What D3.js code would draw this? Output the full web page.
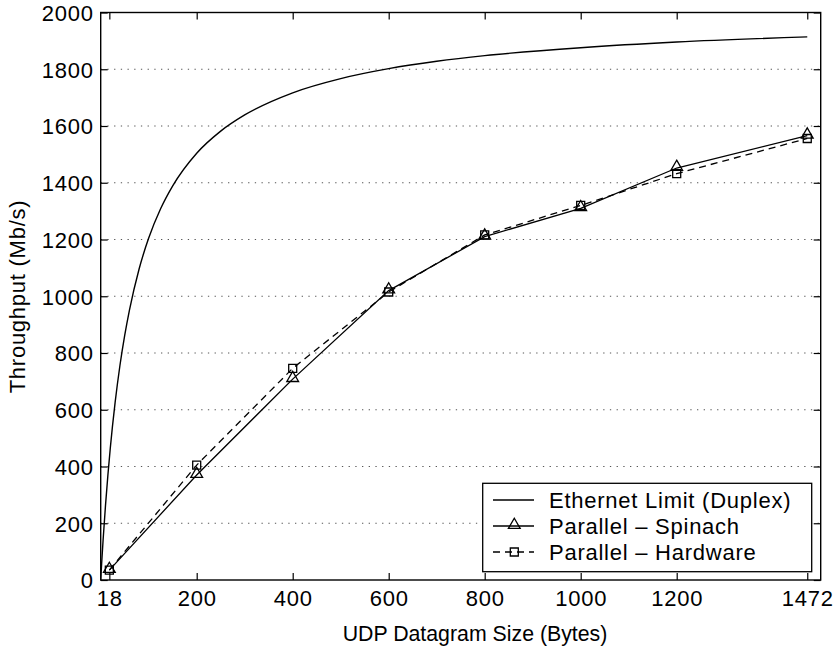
<!DOCTYPE html>
<html>
<head>
<meta charset="utf-8">
<script src="https://cdn.jsdelivr.net/npm/d3@7"></script>
<style>
  body { margin: 0; background: #fff; }
  svg { display: block; }
  text { font-family: "Liberation Sans", Arial, Helvetica, sans-serif; fill: #000; }
</style>
</head>
<body>
<svg id="chart" width="839" height="650"></svg>
<script>
// ---- data ----
const xTicks = [18, 200, 400, 600, 800, 1000, 1200, 1472];
const yTicks = [0, 200, 400, 600, 800, 1000, 1200, 1400, 1600, 1800, 2000];

const sizes = [18, 200, 400, 600, 800, 1000, 1200, 1472];
const spinach = [35, 370, 708, 1020, 1210, 1310, 1452, 1566];
const hardware = [35, 405, 746, 1015, 1216, 1320, 1432, 1556];

// Ethernet limit curve
const limitSizes = [0, 1, 2, 5, 10, 15, 20, 30, 40, 50, 60, 80, 100, 125, 150, 200, 250, 300, 400, 500, 600, 700, 800, 1000, 1200, 1472];
const limitValues = [0, 30, 59, 141, 263, 370, 465, 625, 755, 862, 952, 1096, 1205, 1309, 1389, 1504, 1582, 1639, 1717, 1767, 1802, 1828, 1848, 1876, 1896, 1914];

const seriesNames = ["Ethernet Limit (Duplex)", "Parallel \u2013 Spinach", "Parallel \u2013 Hardware"];

// ---- layout ----
const svg = d3.select("#chart");
const L = 100.7, R = 820.7, T = 12.5, B = 580;
const x = d3.scaleLinear().domain([0, 1500]).range([L, R]);
const y = d3.scaleLinear().domain([0, 2000]).range([B, T]);
const FS = 22;
const LS = "0.75px";

// grid (horizontal dotted)
svg.append("g").selectAll("line")
  .data(yTicks.filter(v => v > 0 && v < 2000))
  .join("line")
  .attr("x1", L).attr("x2", R)
  .attr("y1", d => y(d)).attr("y2", d => y(d))
  .attr("stroke", "#555").attr("stroke-width", 1)
  .attr("stroke-dasharray", "1.3,5.4");

// axes (inward ticks, box)
const tl = 7;
const axB = svg.append("g").attr("transform", `translate(0,${B})`)
  .call(d3.axisBottom(x).tickValues(xTicks).tickSizeInner(-tl).tickSizeOuter(0).tickPadding(10).tickFormat(d3.format("d")));
const axT = svg.append("g").attr("transform", `translate(0,${T})`)
  .call(d3.axisTop(x).tickValues(xTicks).tickSizeInner(-tl).tickSizeOuter(0).tickFormat(""));
const axL = svg.append("g").attr("transform", `translate(${L},0)`)
  .call(d3.axisLeft(y).tickValues(yTicks).tickSizeInner(-tl).tickSizeOuter(0).tickPadding(7).tickFormat(d3.format("d")));
const axR = svg.append("g").attr("transform", `translate(${R},0)`)
  .call(d3.axisRight(y).tickValues(yTicks).tickSizeInner(-tl).tickSizeOuter(0).tickFormat(""));
[axB, axT, axL, axR].forEach(g => {
  g.select(".domain").remove();
  g.selectAll("line").attr("stroke", "#000").attr("stroke-width", 1.2);
  g.selectAll("text").style("font-size", FS + "px").attr("fill", "#000")
    .style("letter-spacing", LS)
    .style("font-family", '"Liberation Sans", Arial, sans-serif');
});
axB.selectAll("text").attr("dy", "0.71em");
axL.selectAll("text").attr("dy", "0.36em");

svg.append("rect").attr("x", L).attr("y", T).attr("width", R - L).attr("height", B - T)
  .attr("fill", "none").attr("stroke", "#000").attr("stroke-width", 1.4);

// ethernet limit
const limitData = limitSizes.map((s, i) => [s, limitValues[i]]);
svg.append("path").datum(limitData)
  .attr("d", d3.line().x(d => x(d[0])).y(d => y(d[1])).curve(d3.curveMonotoneX))
  .attr("fill", "none").attr("stroke", "#000").attr("stroke-width", 1.4);

// series
const spData = sizes.map((s, i) => [s, spinach[i]]);
const hwData = sizes.map((s, i) => [s, hardware[i]]);
const line = d3.line().x(d => x(d[0])).y(d => y(d[1]));

svg.append("path").datum(hwData).attr("d", line)
  .attr("fill", "none").attr("stroke", "#000").attr("stroke-width", 1.3)
  .attr("stroke-dasharray", "7,5");
svg.append("path").datum(spData).attr("d", line)
  .attr("fill", "none").attr("stroke", "#000").attr("stroke-width", 1.3);

const tri = d3.symbol().type(d3.symbolTriangle).size(60);
const sq = d3.symbol().type(d3.symbolSquare).size(64);

function drawTri(g, cx, cy) {
  g.append("path").attr("d", tri()).attr("transform", `translate(${cx},${cy})`)
    .attr("fill", "none").attr("stroke", "#000").attr("stroke-width", 1.3);
}
function drawSq(g, cx, cy) {
  g.append("path").attr("d", sq()).attr("transform", `translate(${cx},${cy})`)
    .attr("fill", "none").attr("stroke", "#000").attr("stroke-width", 1.3);
}
const mk = svg.append("g");
hwData.forEach(d => drawSq(mk, x(d[0]), y(d[1])));
spData.forEach(d => drawTri(mk, x(d[0]), y(d[1]) - 1));

// axis labels
svg.append("text").attr("x", 475).attr("y", 641).attr("text-anchor", "middle")
  .style("font-size", "21.3px").text("UDP Datagram Size (Bytes)");
svg.append("text").attr("transform", `translate(25,296.5) rotate(-90)`)
  .attr("text-anchor", "middle").style("font-size", FS + "px").style("letter-spacing", LS)
  .text("Throughput (Mb/s)");

// legend
const lg = svg.append("g");
lg.append("rect").attr("x", 482.7).attr("y", 483.3).attr("width", 329).attr("height", 88.4)
  .attr("fill", "#fff").attr("stroke", "#000").attr("stroke-width", 1.3);
const rowsY = [500, 526, 552];
const lx1 = 493, lx2 = 534, lxm = 514.3;
seriesNames.forEach((name, i) => {
  const ly = rowsY[i];
  const ln = lg.append("line").attr("x1", lx1).attr("x2", lx2).attr("y1", ly).attr("y2", ly)
    .attr("stroke", "#000").attr("stroke-width", 1.3);
  if (i === 2) ln.attr("stroke-dasharray", "7,5");
  if (i === 1) drawTri(lg, lxm, ly - 1);
  if (i === 2) drawSq(lg, lxm, ly);
  lg.append("text").attr("x", 549).attr("y", ly).attr("dy", "0.36em")
    .style("font-size", FS + "px").style("letter-spacing", LS).text(name);
});
</script>
</body>
</html>
